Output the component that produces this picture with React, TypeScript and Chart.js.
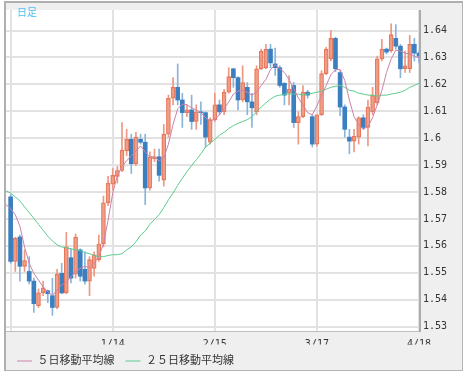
import React, { useEffect, useRef } from 'react';
import { Chart, registerables } from 'chart.js';

Chart.register(...registerables);

// ---- data (index 0 sits on the left edge, candle hidden) ----
const openP: (number | null)[] = [null,
  1.5782, 1.5542, 1.5633, 1.5524, 1.5505, 1.5469, 1.5378, 1.5425, 1.5433, 1.5415,
  1.5371, 1.5498, 1.5425, 1.5556, 1.5495, 1.5585, 1.5513, 1.5469, 1.5516, 1.5549,
  1.5607, 1.5760, 1.5829, 1.5858, 1.5880, 1.5953, 1.5996, 1.5905, 1.5996, 1.5985,
  1.5815, 1.5924, 1.5931, 1.5844, 1.6015, 1.6149, 1.6189, 1.6142, 1.6095, 1.6105,
  1.6062, 1.6098, 1.6095, 1.5985, 1.6069, 1.6124, 1.6098, 1.6171, 1.6258, 1.6225,
  1.6142, 1.6189, 1.6135, 1.6098, 1.6258, 1.6262, 1.6331, 1.6276, 1.6262, 1.6204,
  1.6167, 1.6196, 1.6058, 1.6080, 1.6171, 1.6080, 1.5978, 1.6087, 1.6240, 1.6295,
  1.6371, 1.6244, 1.6116, 1.6004, 1.5989, 1.6004, 1.6076, 1.6040, 1.6098, 1.6131,
  1.6295, 1.6331, 1.6324, 1.6371, 1.6342, 1.6258, 1.6258, 1.6349, 1.6316];
const highP: (number | null)[] = [null,
  1.5790, 1.5632, 1.5640, 1.5585, 1.5560, 1.5480, 1.5440, 1.5469, 1.5436, 1.5480,
  1.5513, 1.5535, 1.5650, 1.5589, 1.5644, 1.5589, 1.5578, 1.5560, 1.5578, 1.5640,
  1.5785, 1.5858, 1.5887, 1.5895, 1.6058, 1.6033, 1.6015, 1.6022, 1.6015, 1.6015,
  1.5949, 1.5960, 1.5960, 1.6051, 1.6160, 1.6225, 1.6276, 1.6167, 1.6124, 1.6160,
  1.6124, 1.6135, 1.6098, 1.6076, 1.6167, 1.6142, 1.6182, 1.6262, 1.6260, 1.6229,
  1.6269, 1.6207, 1.6167, 1.6269, 1.6331, 1.6349, 1.6349, 1.6335, 1.6269, 1.6207,
  1.6233, 1.6207, 1.6098, 1.6196, 1.6178, 1.6087, 1.6087, 1.6251, 1.6338, 1.6400,
  1.6375, 1.6251, 1.6124, 1.6033, 1.6033, 1.6080, 1.6087, 1.6142, 1.6189, 1.6305,
  1.6367, 1.6335, 1.6425, 1.6422, 1.6349, 1.6324, 1.6382, 1.6371, 1.6324];
const lowP: (number | null)[] = [null,
  1.5535, 1.5505, 1.5469, 1.5505, 1.5458, 1.5353, 1.5371, 1.5415, 1.5389, 1.5342,
  1.5367, 1.5422, 1.5422, 1.5462, 1.5480, 1.5469, 1.5458, 1.5415, 1.5487, 1.5542,
  1.5596, 1.5749, 1.5807, 1.5833, 1.5876, 1.5935, 1.5869, 1.5898, 1.5978, 1.5753,
  1.5807, 1.5913, 1.5840, 1.5822, 1.6004, 1.6124, 1.6124, 1.6040, 1.6080, 1.6033,
  1.6033, 1.6051, 1.5967, 1.5978, 1.6062, 1.6087, 1.6087, 1.6167, 1.6189, 1.6105,
  1.6135, 1.6087, 1.6040, 1.6087, 1.6255, 1.6258, 1.6262, 1.6233, 1.6189, 1.6124,
  1.6124, 1.6040, 1.5978, 1.6076, 1.6149, 1.5967, 1.5971, 1.6084, 1.6236, 1.6287,
  1.6247, 1.6084, 1.6004, 1.5942, 1.5949, 1.5978, 1.6033, 1.5971, 1.6087, 1.6124,
  1.6287, 1.6313, 1.6320, 1.6331, 1.6225, 1.6244, 1.6244, 1.6287, 1.6280];
const closeP: (number | null)[] = [null,
  1.5542, 1.5629, 1.5524, 1.5545, 1.5469, 1.5385, 1.5425, 1.5444, 1.5422, 1.5371,
  1.5495, 1.5425, 1.5596, 1.5480, 1.5633, 1.5487, 1.5469, 1.5549, 1.5567, 1.5607,
  1.5760, 1.5833, 1.5862, 1.5880, 1.5956, 1.5996, 1.5905, 1.6004, 1.5985, 1.5815,
  1.5931, 1.5931, 1.5862, 1.6015, 1.6149, 1.6189, 1.6142, 1.6095, 1.6105, 1.6062,
  1.6098, 1.6095, 1.6004, 1.6069, 1.6124, 1.6098, 1.6171, 1.6229, 1.6225, 1.6142,
  1.6207, 1.6135, 1.6113, 1.6258, 1.6324, 1.6331, 1.6280, 1.6262, 1.6196, 1.6160,
  1.6182, 1.6058, 1.6080, 1.6171, 1.6160, 1.5978, 1.6087, 1.6240, 1.6331, 1.6371,
  1.6258, 1.6116, 1.6033, 1.5989, 1.6007, 1.6076, 1.6040, 1.6116, 1.6160, 1.6295,
  1.6331, 1.6320, 1.6385, 1.6342, 1.6258, 1.6269, 1.6349, 1.6316, 1.6305];

const ma5 = [
  1.5753, 1.5738, 1.5716, 1.5673, 1.5596, 1.5535, 1.5498, 1.5473, 1.5447, 1.5429,
  1.5415, 1.5436, 1.5455, 1.5465, 1.5484, 1.5505, 1.5516, 1.5524, 1.5520, 1.5535,
  1.5560, 1.5607, 1.5695, 1.5796, 1.5862, 1.5895, 1.5916, 1.5935, 1.5953, 1.5971,
  1.5949, 1.5931, 1.5931, 1.5916, 1.5927, 1.5978, 1.6051, 1.6109, 1.6127, 1.6124,
  1.6113, 1.6105, 1.6095, 1.6076, 1.6065, 1.6069, 1.6087, 1.6109, 1.6135, 1.6164,
  1.6175, 1.6178, 1.6171, 1.6160, 1.6171, 1.6196, 1.6218, 1.6255, 1.6273, 1.6258,
  1.6244, 1.6218, 1.6185, 1.6149, 1.6124, 1.6095, 1.6087, 1.6120, 1.6160, 1.6196,
  1.6236, 1.6255, 1.6255, 1.6215, 1.6142, 1.6080, 1.6051, 1.6033, 1.6044, 1.6076,
  1.6124, 1.6178, 1.6244, 1.6295, 1.6327, 1.6324, 1.6316, 1.6313, 1.6305, 1.6298];
const ma25 = [
  1.5804, 1.5796, 1.5782, 1.5767, 1.5745, 1.5724, 1.5702, 1.5680, 1.5658, 1.5636,
  1.5618, 1.5604, 1.5596, 1.5593, 1.5589, 1.5585, 1.5582, 1.5575, 1.5571, 1.5564,
  1.5560, 1.5560, 1.5564, 1.5567, 1.5567, 1.5571, 1.5585, 1.5596, 1.5615, 1.5640,
  1.5655, 1.5680, 1.5698, 1.5716, 1.5742, 1.5771, 1.5796, 1.5825, 1.5851, 1.5876,
  1.5898, 1.5920, 1.5942, 1.5967, 1.5982, 1.5996, 1.6011, 1.6022, 1.6036, 1.6047,
  1.6055, 1.6062, 1.6069, 1.6080, 1.6098, 1.6116, 1.6131, 1.6145, 1.6156, 1.6160,
  1.6164, 1.6164, 1.6164, 1.6164, 1.6160, 1.6164, 1.6167, 1.6171, 1.6175, 1.6182,
  1.6189, 1.6193, 1.6196, 1.6189, 1.6178, 1.6175, 1.6167, 1.6164, 1.6160, 1.6160,
  1.6156, 1.6160, 1.6160, 1.6164, 1.6167, 1.6171, 1.6178, 1.6189, 1.6196, 1.6204];

const xTickIndex = [1, 23, 45, 67, 89];
const xTickText = ['', '1/14', '2/15', '3/17', '4/18'];
const yTickValues = [1.53, 1.54, 1.55, 1.56, 1.57, 1.58, 1.59, 1.6, 1.61, 1.62, 1.63, 1.64];
const seriesNames = ['５日移動平均線', '２５日移動平均線'];
const titleText = '日足';

const UP_BORDER = '#e7785b';
const UP_FILL = 'rgba(243,168,146,0.38)';
const UP_WICK = '#ec9883';
const DOWN_BODY = '#3b7fc0';
const DOWN_WICK = '#88b5de';
const MA5_COLOR = '#cd82a8';
const MA25_COLOR = '#5ccc8e';

export default function App() {
  const ref = useRef<HTMLCanvasElement>(null);

  useEffect(() => {
    const canvas = ref.current;
    if (!canvas) return;
    const cats = closeP.map((_, i) => String(i));
    const isUp = (i: number) => (closeP[i] ?? 0) >= (openP[i] ?? 0);

    const framePlugin = {
      id: 'frame',
      beforeDraw(chart: any) {
        const { ctx, chartArea: a } = chart;
        ctx.save();
        ctx.fillStyle = '#ffffff';
        ctx.fillRect(0, 0, 465, 375);
        ctx.fillStyle = '#efefef';
        ctx.fillRect(4, 1, 459, 370);
        ctx.fillStyle = '#ffffff';
        ctx.fillRect(a.left, a.top, a.right - a.left, a.bottom - a.top);
        ctx.restore();
      },
      afterDraw(chart: any) {
        const { ctx, chartArea: a } = chart;
        ctx.save();
        ctx.strokeStyle = '#b5b5b5';
        ctx.lineWidth = 1;
        ctx.strokeRect(4.5, 1.5, 458, 369);
        ctx.fillStyle = '#b0b0b0';
        ctx.fillRect(4, 1, 2, 370);
        ctx.fillRect(4, 1, 459, 2);
        ctx.fillStyle = '#ababab';
        ctx.fillRect(a.right, a.top, 2, a.bottom - a.top + 1);
        ctx.fillStyle = '#bdbdbd';
        ctx.fillRect(a.left, a.bottom, a.right - a.left, 1);
        ctx.fillStyle = '#4fbff0';
        ctx.font = '10px "Noto Sans CJK JP"';
        ctx.textBaseline = 'middle';
        ctx.fillText(titleText, 17, 12);
        ctx.restore();
      },
    };

    const chart = new Chart(canvas, {
      type: 'bar',
      data: {
        labels: cats,
        datasets: [
          {
            type: 'line',
            label: seriesNames[0],
            data: ma5,
            borderColor: MA5_COLOR,
            backgroundColor: MA5_COLOR,
            borderWidth: 1,
            pointRadius: 0,
            tension: 0,
            order: 0,
          } as any,
          {
            type: 'line',
            label: seriesNames[1],
            data: ma25,
            borderColor: MA25_COLOR,
            backgroundColor: MA25_COLOR,
            borderWidth: 1,
            pointRadius: 0,
            tension: 0,
            order: 1,
          } as any,
          {
            type: 'bar',
            label: 'body',
            data: openP.map((o, i) => (o == null ? null : [o, closeP[i] as number])),
            grouped: false,
            barThickness: 4,
            borderSkipped: false,
            borderWidth: (c: any) => (isUp(c.dataIndex) ? 1 : 0),
            borderColor: (c: any) => (isUp(c.dataIndex) ? UP_BORDER : DOWN_BODY),
            backgroundColor: (c: any) => (isUp(c.dataIndex) ? UP_FILL : DOWN_BODY),
            order: 2,
          } as any,
          {
            type: 'bar',
            label: 'wick',
            data: lowP.map((l, i) => (l == null ? null : [l, highP[i] as number])),
            grouped: false,
            barThickness: 1,
            borderWidth: 0,
            backgroundColor: (c: any) => (isUp(c.dataIndex) ? UP_WICK : DOWN_WICK),
            order: 3,
          } as any,
        ],
      },
      options: {
        animation: false,
        responsive: false,
        devicePixelRatio: 1,
        events: [],
        layout: { padding: { left: 6, top: 3, right: 0, bottom: -1.5 } },
        plugins: {
          tooltip: { enabled: false },
          legend: {
            position: 'bottom',
            align: 'start',
            labels: {
              filter: (item: any) => item.datasetIndex < 2,
              usePointStyle: true,
              pointStyle: 'line',
              pointStyleWidth: 15,
              padding: 11,
              color: '#333333',
              font: { size: 11, family: '"DejaVu Sans Mono", "Noto Sans CJK JP"' },
            },
          },
        },
        scales: {
          x: {
            type: 'category',
            offset: false,
            grid: {
              offset: false,
              color: '#e2e2e2',
              lineWidth: 2,
              drawTicks: false,
            },
            border: { display: false },
            afterBuildTicks: (s: any) => {
              s.ticks = xTickIndex.map((v) => ({ value: v }));
            },
            afterFit: (s: any) => {
              s.height = 13.5;
            },
            ticks: {
              autoSkip: false,
              maxRotation: 0,
              padding: 7,
              color: '#333333',
              font: { size: 10, family: '"DejaVu Sans Mono"' },
              callback: (v: any) => {
                const k = xTickIndex.indexOf(v);
                return k >= 0 ? xTickText[k] : '';
              },
            },
          },
          y: {
            type: 'linear',
            position: 'right',
            min: 1.52836,
            max: 1.64764,
            grid: { color: '#e2e2e2', lineWidth: 2, drawTicks: false },
            border: { display: false },
            afterBuildTicks: (s: any) => {
              s.ticks = yTickValues.map((v) => ({ value: v }));
            },
            afterFit: (s: any) => {
              s.width = 46;
            },
            ticks: {
              padding: 4,
              color: '#333333',
              font: { size: 10, family: '"DejaVu Sans Mono"' },
              callback: (v: any) => String(Math.round(v * 100) / 100),
            },
          },
        },
      } as any,
      plugins: [framePlugin],
    });
    return () => chart.destroy();
  }, []);

  return (
    <div style={{ position: 'fixed', left: 0, top: 0, width: 465, height: 375 }}>
      <canvas ref={ref} width={465} height={375} style={{ width: 465, height: 375, display: 'block' }} />
    </div>
  );
}
